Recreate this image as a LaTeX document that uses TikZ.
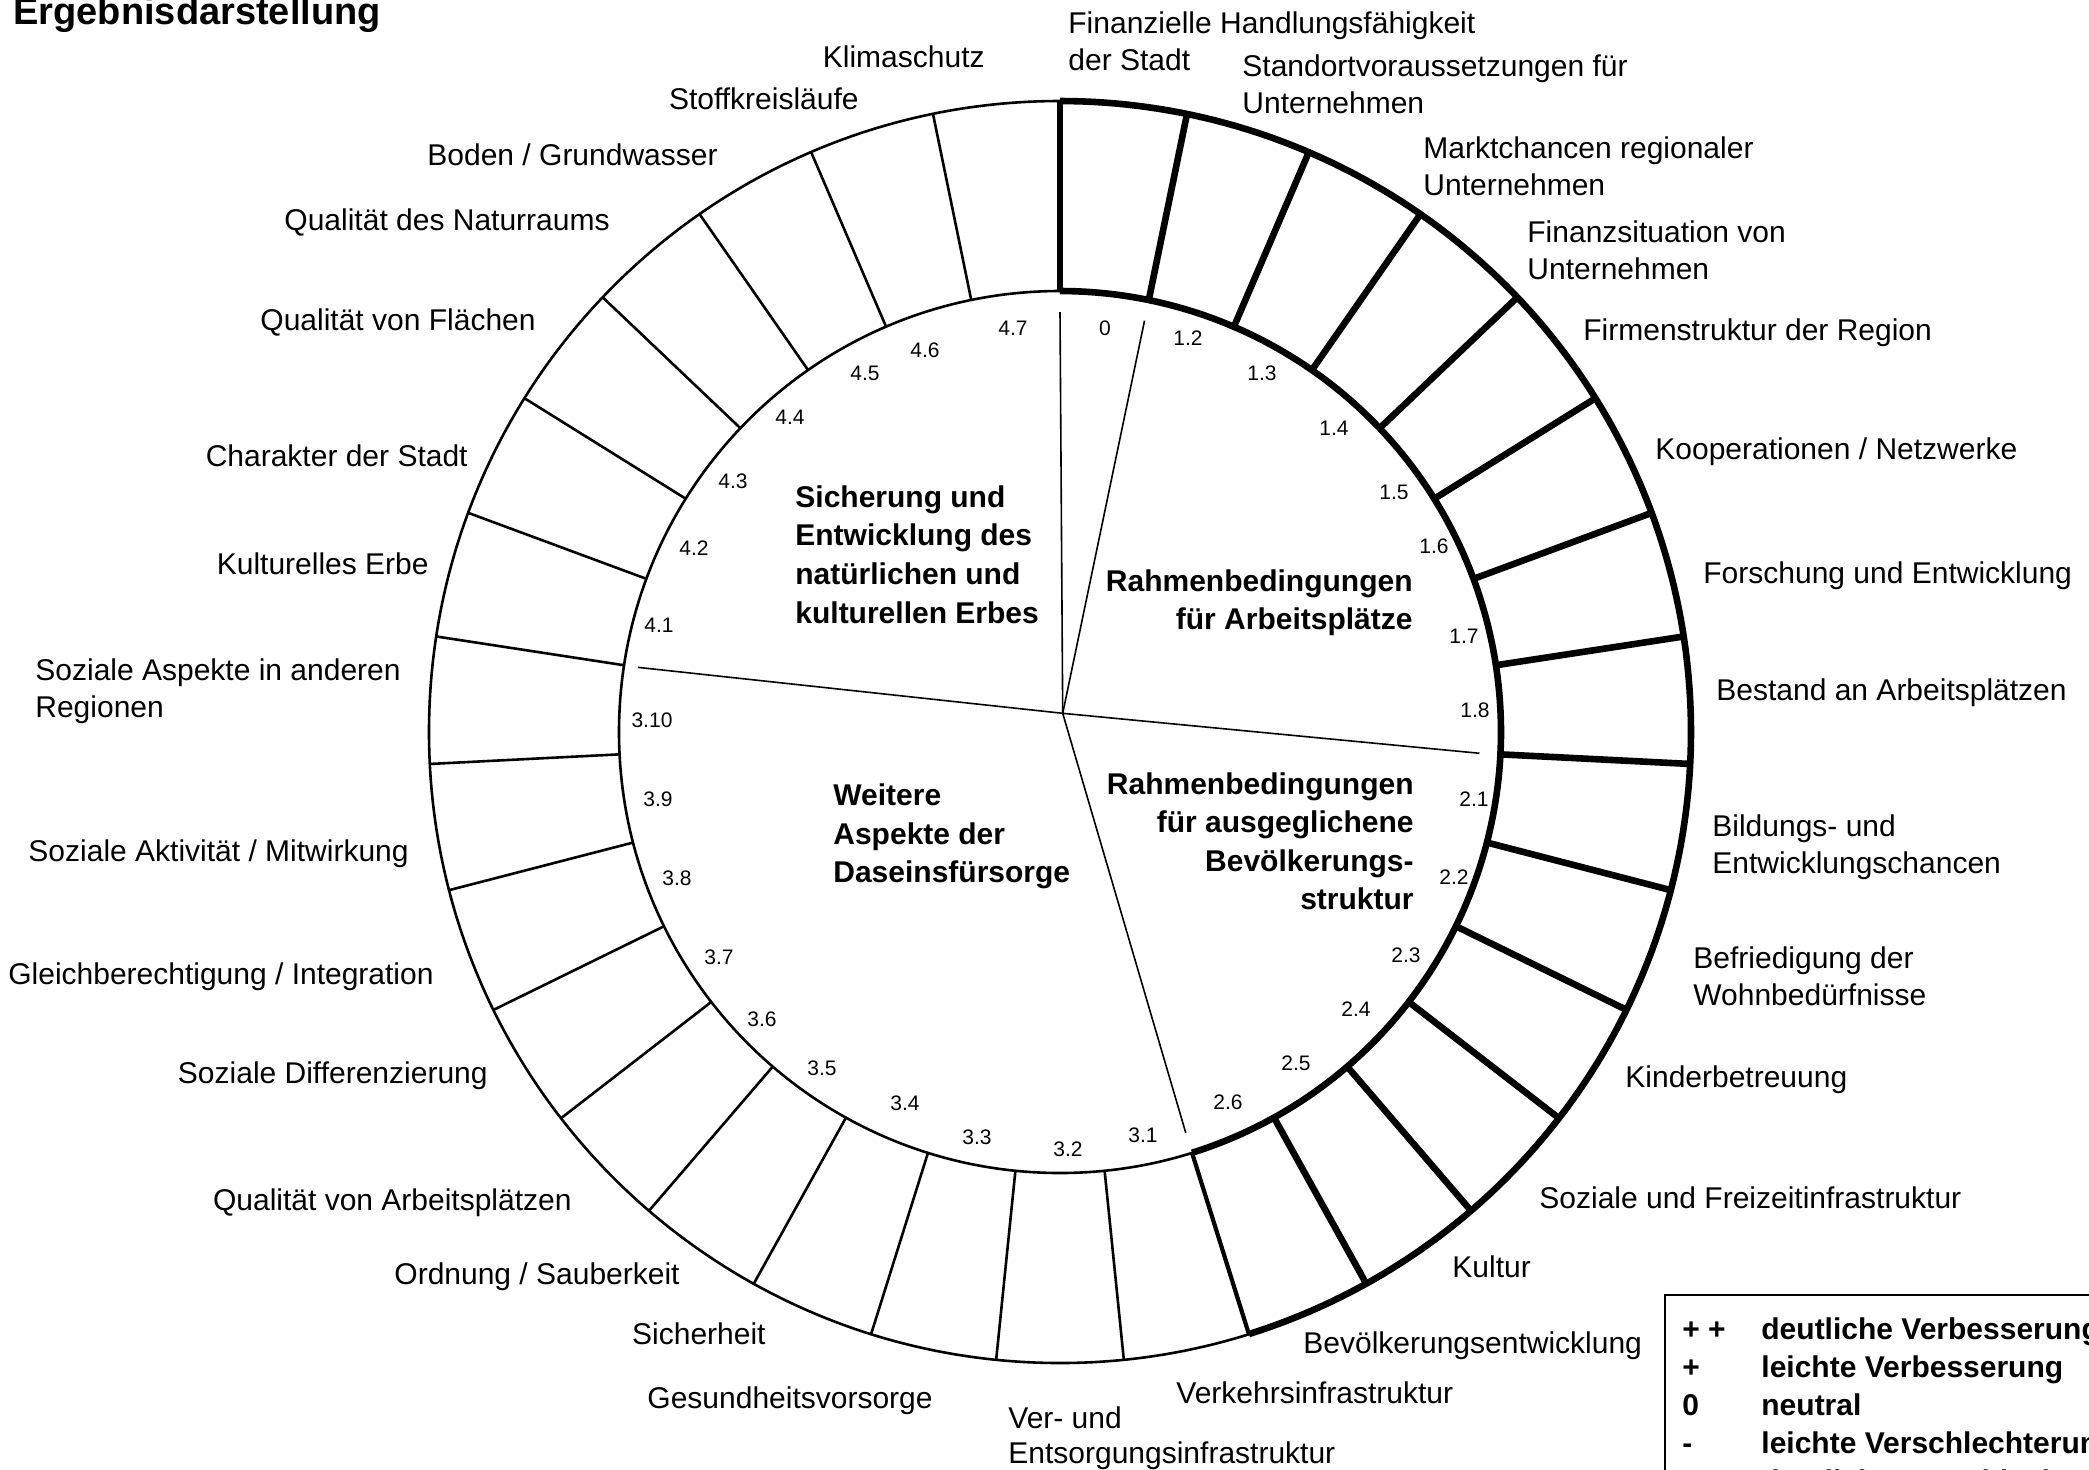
\documentclass[tikz,border=0pt]{standalone}
\usepackage{fontspec}
\setmainfont{Liberation Sans}
\begin{document}
\begin{tikzpicture}[x=0.5pt,y=-0.5pt,
  lbl/.style={font=\fontsize{15}{18.5}\selectfont, inner sep=0pt},
  num/.style={font=\fontsize{10.5}{12}\selectfont, inner sep=0pt},
  ctr/.style={font=\fontsize{15}{19}\selectfont\bfseries, inner sep=0pt},
  leg/.style={font=\fontsize{15}{19}\selectfont\bfseries, inner sep=0pt, anchor=base west},
  thinring/.style={line width=1.3pt},
  thickring/.style={line width=3.3pt},
  midring/.style={line width=2.1pt},
  sector/.style={line width=0.8pt}]
\useasboundingbox (0,0) rectangle (2089,1469);
\clip (0,0) rectangle (2089,1469);
\def\cx{1060}\def\cy{732}\def\Ri{441}\def\Ro{631}
\coordinate (C) at (\cx,\cy);
\coordinate (H) at (1062.7,713.3);
% title
\node[anchor=base west, inner sep=0pt, font=\fontsize{19}{22}\selectfont\bfseries] (title) at (13,24) {Ergebnisdarstellung};
% rings
\draw[thinring] (C) circle[radius=315.5pt];
\draw[thinring] (C) circle[radius=220.5pt];
\draw[thickring] plot[domain=0:162.5806,samples=160] ({\cx+\Ro*sin(\x)},{\cy-\Ro*cos(\x)});
\draw[thickring] plot[domain=0:162.5806,samples=160] ({\cx+\Ri*sin(\x)},{\cy-\Ri*cos(\x)});
% radial dividers
\foreach \k in {0,...,13}{
  \pgfmathsetmacro\t{\k*360/31}
  \draw[thickring] ({\cx+\Ri*sin(\t)},{\cy-\Ri*cos(\t)}) -- ({\cx+\Ro*sin(\t)},{\cy-\Ro*cos(\t)});
}
\pgfmathsetmacro\t{14*360/31}
\draw[midring] ({\cx+\Ri*sin(\t)},{\cy-\Ri*cos(\t)}) -- ({\cx+\Ro*sin(\t)},{\cy-\Ro*cos(\t)});
\foreach \k in {15,...,30}{
  \pgfmathsetmacro\t{\k*360/31}
  \draw[thinring] ({\cx+\Ri*sin(\t)},{\cy-\Ri*cos(\t)}) -- ({\cx+\Ro*sin(\t)},{\cy-\Ro*cos(\t)});
}
% sector lines from hub
\foreach \k/\r in {0/420,1/420,8/420,14/420,24/427}{
  \pgfmathsetmacro\t{\k*360/31}
  \draw[sector] (H) -- ({\cx+\r*sin(\t)},{\cy-\r*cos(\t)});
}
% segment numbers
\foreach \n/\px/\py [count=\i] in {0/1105/328, 1.2/1188/338, 1.3/1262/373, 1.4/1334/428, 1.5/1394/492, 1.6/1434/546, 1.7/1464/636, 1.8/1475/710,
  2.1/1474/799, 2.2/1454/877, 2.3/1406/955, 2.4/1356/1009, 2.5/1296/1063, 2.6/1228/1102,
  3.1/1143/1135, 3.2/1068/1149, 3.3/977/1137, 3.4/905/1103, 3.5/822/1068, 3.6/762/1019, 3.7/719/957, 3.8/677/878, 3.9/658/799, 3.10/652/720,
  4.1/659/625, 4.2/694/548, 4.3/733/481, 4.4/790/417, 4.5/865/373, 4.6/925/350, 4.7/1013/328}{
  \node[num] (n\i) at (\px,\py) {\n};
}
% sector titles
\node[ctr, anchor=base west] (s4a) at (795,507) {Sicherung und};
\node[ctr, anchor=base west] (s4b) at (795,545) {Entwicklung des};
\node[ctr, anchor=base west] (s4c) at (795,584) {natürlichen und};
\node[ctr, anchor=base west] (s4d) at (795,623) {kulturellen Erbes};
\node[ctr, anchor=base east] (s1a) at (1413,591) {Rahmenbedingungen};
\node[ctr, anchor=base east] (s1b) at (1413,629) {für Arbeitsplätze};
\node[ctr, anchor=base east] (s2a) at (1414,794) {Rahmenbedingungen};
\node[ctr, anchor=base east] (s2b) at (1414,832) {für ausgeglichene};
\node[ctr, anchor=base east] (s2c) at (1414,871) {Bevölkerungs-};
\node[ctr, anchor=base east] (s2d) at (1414,909) {struktur};
\node[ctr, anchor=base west] (s3a) at (833,805) {Weitere};
\node[ctr, anchor=base west] (s3b) at (833,844) {Aspekte der};
\node[ctr, anchor=base west] (s3c) at (833,882) {Daseinsfürsorge};
% outer labels, right side (left aligned)
\node[lbl, anchor=base west] (l1a) at (1068,33) {Finanzielle Handlungsfähigkeit};
\node[lbl, anchor=base west] (l1b) at (1068,70) {der Stadt};
\node[lbl, anchor=base west] (l2a) at (1242,76) {Standortvoraussetzungen für};
\node[lbl, anchor=base west] (l2b) at (1242,113) {Unternehmen};
\node[lbl, anchor=base west] (l3a) at (1423,158) {Marktchancen regionaler};
\node[lbl, anchor=base west] (l3b) at (1423,195) {Unternehmen};
\node[lbl, anchor=base west] (l4a) at (1527,242) {Finanzsituation von};
\node[lbl, anchor=base west] (l4b) at (1527,279) {Unternehmen};
\node[lbl, anchor=base west] (l5) at (1583,340) {Firmenstruktur der Region};
\node[lbl, anchor=base west] (l6) at (1655,459) {Kooperationen / Netzwerke};
\node[lbl, anchor=base west] (l7) at (1703,583) {Forschung und Entwicklung};
\node[lbl, anchor=base west] (l8) at (1716,700) {Bestand an Arbeitsplätzen};
\node[lbl, anchor=base west] (l9a) at (1712,836) {Bildungs- und};
\node[lbl, anchor=base west] (l9b) at (1712,873) {Entwicklungschancen};
\node[lbl, anchor=base west] (l10a) at (1693,968) {Befriedigung der};
\node[lbl, anchor=base west] (l10b) at (1693,1005) {Wohnbedürfnisse};
\node[lbl, anchor=base west] (l11) at (1625,1087) {Kinderbetreuung};
\node[lbl, anchor=base west] (l12) at (1539,1208) {Soziale und Freizeitinfrastruktur};
\node[lbl, anchor=base west] (l13) at (1452,1277) {Kultur};
\node[lbl, anchor=base west] (l14) at (1303,1353) {Bevölkerungsentwicklung};
\node[lbl, anchor=base west] (l15) at (1176,1403) {Verkehrsinfrastruktur};
\node[lbl, anchor=base west] (l16a) at (1008,1428) {Ver- und};
\node[lbl, anchor=base west] (l16b) at (1008,1463) {Entsorgungsinfrastruktur};
% outer labels, left side (right aligned)
\node[lbl, anchor=base east] (l17) at (933,1408) {Gesundheitsvorsorge};
\node[lbl, anchor=base east] (l18) at (766,1344) {Sicherheit};
\node[lbl, anchor=base east] (l19) at (680,1284) {Ordnung / Sauberkeit};
\node[lbl, anchor=base east] (l20) at (572,1210) {Qualität von Arbeitsplätzen};
\node[lbl, anchor=base east] (l21) at (488,1083) {Soziale Differenzierung};
\node[lbl, anchor=base east] (l22) at (434,984) {Gleichberechtigung / Integration};
\node[lbl, anchor=base east] (l23) at (409,861) {Soziale Aktivität / Mitwirkung};
\node[lbl, anchor=base west] (l24a) at (35,680) {Soziale Aspekte in anderen};
\node[lbl, anchor=base west] (l24b) at (35,717) {Regionen};
\node[lbl, anchor=base east] (l25) at (429,574) {Kulturelles Erbe};
\node[lbl, anchor=base east] (l26) at (468,466) {Charakter der Stadt};
\node[lbl, anchor=base east] (l27) at (536,330) {Qualität von Flächen};
\node[lbl, anchor=base east] (l28) at (610,230) {Qualität des Naturraums};
\node[lbl, anchor=base east] (l29) at (718,165) {Boden / Grundwasser};
\node[lbl, anchor=base east] (l30) at (859,109) {Stoffkreisläufe};
\node[lbl, anchor=base east] (l31) at (985,67) {Klimaschutz};
% legend
\draw[line width=0.85pt] (1665,1295) rectangle (2120,1520);
\foreach \s/\txt/\yy [count=\i] in {{+ +}/{deutliche Verbesserung}/1339, {+}/{leichte Verbesserung}/1377, {0}/{neutral}/1415, {-}/{leichte Verschlechterung}/1453, {- -}/{deutliche Verschlechterung}/1491}{
  \node[leg] (ls\i) at (1682,\yy) {\s};
  \node[leg] (lt\i) at (1761,\yy) {\txt};
}
\end{tikzpicture}
\end{document}
